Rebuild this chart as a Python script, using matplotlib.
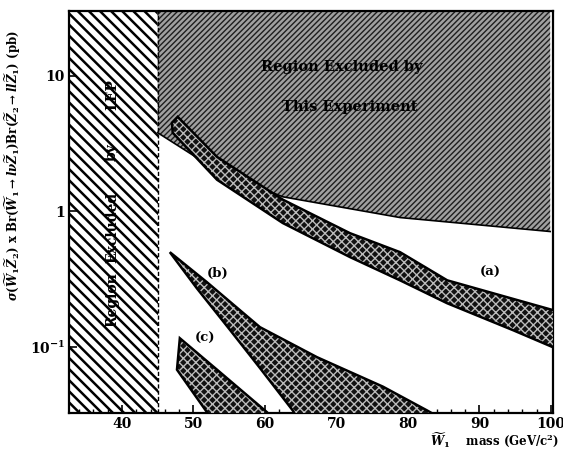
import matplotlib
matplotlib.use("Agg")
import matplotlib.pyplot as plt
from matplotlib.ticker import FixedLocator, MultipleLocator

plt.rcParams["font.family"] = ["DejaVu Serif"]
plt.rcParams["font.weight"] = "bold"
plt.rcParams["mathtext.fontset"] = "custom"
plt.rcParams["mathtext.rm"] = "DejaVu Serif:bold"
plt.rcParams["mathtext.it"] = "DejaVu Serif:italic:bold"
plt.rcParams["mathtext.bf"] = "DejaVu Serif:bold"

# LEP excluded mass range (GeV)
lep_range = [30.0, 45.0]
lep_words = ["Region", "Excluded", "by", "LEP"]
lep_word_y = [0.222, 0.76, 2.75, 7.2]

# lower edge of the region excluded by this experiment
excl_x = [45.0, 53.3, 62.5, 78.9, 99.9]
excl_y = [3.8, 2.0, 1.28, 0.90, 0.71]

# band (a)
a_upper_x = [47.0, 47.8, 53.3, 62.5, 71.9, 78.9, 85.5, 100.6]
a_upper_y = [4.5, 4.98, 2.52, 1.22, 0.69, 0.50, 0.31, 0.185]
a_lower_x = [47.1, 53.3, 62.5, 71.9, 78.9, 85.5, 94.7, 100.6]
a_lower_y = [3.8, 1.71, 0.82, 0.46, 0.31, 0.21, 0.133, 0.098]

# band (b)
b_upper_x = [46.7, 51.9, 59.3, 67.3, 76.5, 82.7, 84.5]
b_upper_y = [0.50, 0.30, 0.14, 0.084, 0.051, 0.034, 0.030]
b_lower_x = [46.7, 50.5, 55.0, 59.3, 63.9, 64.5]
b_lower_y = [0.50, 0.27, 0.136, 0.070, 0.034, 0.030]

# band (c)
c_upper_x = [47.7, 48.1, 53.3, 60.3, 61.0]
c_upper_y = [0.068, 0.116, 0.068, 0.033, 0.030]
c_lower_x = [47.7, 51.9, 52.3]
c_lower_y = [0.068, 0.033, 0.030]

band_labels = ["(a)", "(b)", "(c)"]
band_label_pos = [(91.5, 0.357), (53.4, 0.346), (51.6, 0.116)]

x_lim = (32.6, 100.3)
y_lim = (0.0326, 30.0)

fig = plt.figure(figsize=(5.63, 4.49), dpi=100)
ax = fig.add_axes([0.1226, 0.0802, 0.8597, 0.8953])
ax.set_yscale("log")
ax.set_xlim(*x_lim)
ax.set_ylim(*y_lim)

# LEP excluded region
with plt.rc_context({"hatch.linewidth": 1.8}):
    ax.axvspan(lep_range[0], lep_range[1], facecolor="white", edgecolor="black",
               hatch="\\\\\\", linewidth=0, zorder=1)
ax.axvline(lep_range[1], color="black", lw=1.0, ls=(0, (3, 1.5)), zorder=2)
for word, wy in zip(lep_words, lep_word_y):
    ax.text(38.6, wy, word, rotation=90, ha="center", va="center",
            fontsize=10, fontweight="bold", zorder=5)

# region excluded by this experiment
with plt.rc_context({"hatch.linewidth": 1.0}):
    ax.fill_between(excl_x, excl_y, [y_lim[1]] * len(excl_x), facecolor="#a0a0a0",
                    edgecolor="#1e1e1e", hatch="//////", linewidth=0, zorder=1)
ax.plot(excl_x, excl_y, color="black", lw=1.2, zorder=2)
ax.text(70.8, 11.6, "Region Excluded by", ha="center", va="center",
        fontsize=10.5, fontweight="bold", zorder=5)
ax.text(71.9, 5.9, "This Experiment", ha="center", va="center",
        fontsize=10.5, fontweight="bold", zorder=5)


def draw_band(ux, uy, lx, ly):
    xs = list(ux) + list(lx)[::-1]
    ys = list(uy) + list(ly)[::-1]
    with plt.rc_context({"hatch.linewidth": 1.0}):
        ax.fill(xs, ys, facecolor="#111111", edgecolor="#bbbbbb", hatch="xxxx",
                linewidth=0, zorder=3)
    ax.fill(xs, ys, facecolor="none", edgecolor="black", linewidth=1.8, zorder=4)


draw_band(a_upper_x, a_upper_y, a_lower_x, a_lower_y)
draw_band(b_upper_x, b_upper_y, b_lower_x, b_lower_y)
draw_band(c_upper_x, c_upper_y, c_lower_x, c_lower_y)

for label, (lx, ly) in zip(band_labels, band_label_pos):
    ax.text(lx, ly, label, ha="center", va="center", fontsize=9.5, fontweight="bold")

ax.xaxis.set_major_locator(FixedLocator([40, 50, 60, 70, 80, 90, 100]))
ax.xaxis.set_minor_locator(MultipleLocator(2))
ax.yaxis.set_major_locator(FixedLocator([0.1, 1, 10]))
ax.yaxis.set_minor_locator(FixedLocator([]))
ax.set_yticklabels([r"10$^{-1}$", "1", "10"])
ax.tick_params(axis="both", which="major", direction="in", length=6, width=1.2,
               labelsize=10, pad=3)
ax.tick_params(axis="x", which="minor", direction="in", length=3, width=1.0)
for lbl in ax.get_xticklabels() + ax.get_yticklabels():
    lbl.set_fontweight("bold")
for sp in ax.spines.values():
    sp.set_linewidth(1.6)

ax.set_ylabel(r"$\sigma(\widetilde{W}_1\widetilde{Z}_2)$ x Br($\widetilde{W}_1\rightarrow l\nu\widetilde{Z}_1$)"
              r"Br($\widetilde{Z}_2\rightarrow ll\widetilde{Z}_1$) (pb)",
              fontsize=8.5, fontweight="bold")
ax.yaxis.set_label_coords(-0.095, 0.615)
ax.set_xlabel(r"$\widetilde{W}_1$    mass (GeV/c$^2$)", fontsize=8.5, fontweight="bold")
ax.xaxis.set_label_coords(1.012, -0.066)
ax.xaxis.label.set_ha("right")
ax.xaxis.label.set_va("center")

fig.savefig("out.png", dpi=100, facecolor="white")
